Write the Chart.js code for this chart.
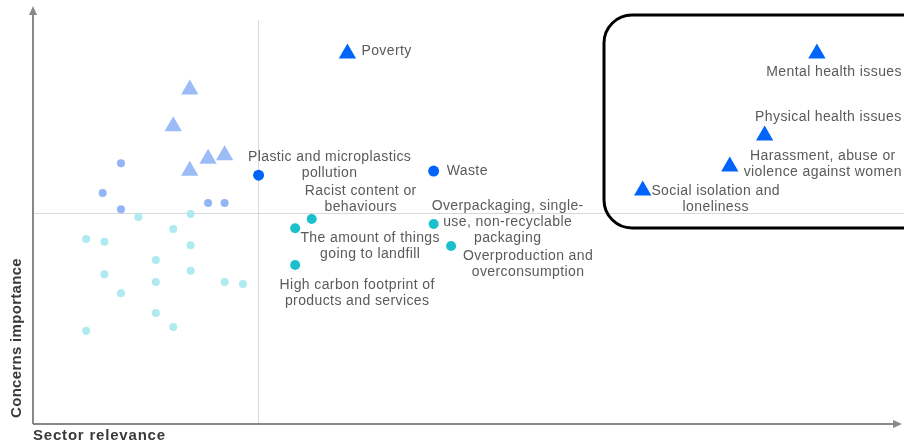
<!DOCTYPE html>
<html>
<head>
<meta charset="utf-8">
<script src="https://cdn.jsdelivr.net/npm/chart.js@4/dist/chart.umd.min.js"></script>
<style>
  html, body { margin: 0; padding: 0; background: #fff; }
  #wrap { width: 904px; height: 443px; position: relative; }
</style>
</head>
<body>
<div id="wrap"><canvas id="matrix"></canvas></div>
<script>
// x = sector relevance, y = concerns importance (0-100, arbitrary)
const socialConcerns = ['Poverty', 'Mental health issues', 'Physical health issues', 'Harassment, abuse or violence against women', 'Social isolation and loneliness']
const socialX = [36.1, 90.0, 84.0, 80.0, 70.0]
const socialY = [89.5, 89.5, 69.7, 62.2, 56.4]

const keyEnvConcerns = ['Plastic and microplastics pollution', 'Waste']
const keyEnvX = [25.9, 46.0]
const keyEnvY = [60.1, 61.1]

const productConcerns = ['Racist content or behaviours', 'The amount of things going to landfill', 'High carbon footprint of products and services', 'Overpackaging, single-use, non-recyclable packaging', 'Overproduction and overconsumption']
const productX = [32.0, 30.1, 30.1, 46.0, 48.0]
const productY = [49.5, 47.3, 38.4, 48.3, 43.0]

// unlabelled, lower relevance
const otherSocialX = [18.0, 16.1, 20.1, 22.0, 18.0]
const otherSocialY = [80.8, 71.9, 64.1, 64.9, 61.2]
const otherEnvX = [10.1, 8.0, 10.1, 20.1, 22.0]
const otherEnvY = [63.0, 55.8, 51.9, 53.4, 53.4]
const otherProductX = [12.1, 18.1, 16.1, 6.1, 8.2, 18.1, 14.1, 8.2, 14.1, 18.1, 22.0, 24.1, 10.1, 14.1, 16.1, 6.1]
const otherProductY = [50.0, 50.7, 47.1, 44.7, 44.0, 43.2, 39.6, 36.2, 34.3, 37.0, 34.3, 33.8, 31.6, 26.8, 23.4, 22.5]

const midX = 25.8
const midY = 51.0

const toPoints = (xs, ys) => xs.map((x, i) => ({ x: x, y: ys[i] }))

// label placement per concern: lines, dx, dy (px from point), align
const labelLayout = {
    'Poverty': { lines: ['Poverty'], dx: 14, dy: -2, align: 'left' },
    'Mental health issues': { lines: ['Mental health issues'], dx: 85, dy: 19, align: 'right' },
    'Physical health issues': { lines: ['Physical health issues'], dx: 137, dy: -18, align: 'right' },
    'Harassment, abuse or violence against women': { lines: ['Harassment, abuse or', 'violence against women'], dx: 93, dy: -10, align: 'center' },
    'Social isolation and loneliness': { lines: ['Social isolation and', 'loneliness'], dx: 73, dy: 1, align: 'center' },
    'Plastic and microplastics pollution': { lines: ['Plastic and microplastics', 'pollution'], dx: 71, dy: -18, align: 'center' },
    'Waste': { lines: ['Waste'], dx: 13, dy: 0, align: 'left' },
    'Racist content or behaviours': { lines: ['Racist content or', 'behaviours'], dx: 49, dy: -28, align: 'center' },
    'The amount of things going to landfill': { lines: ['The amount of things', 'going to landfill'], dx: 75, dy: 10, align: 'center' },
    'High carbon footprint of products and services': { lines: ['High carbon footprint of', 'products and services'], dx: 62, dy: 20, align: 'center' },
    'Overpackaging, single-use, non-recyclable packaging': { lines: ['Overpackaging, single-', 'use, non-recyclable', 'packaging'], dx: 74, dy: -18, align: 'center' },
    'Overproduction and overconsumption': { lines: ['Overproduction and', 'overconsumption'], dx: 77, dy: 10, align: 'center' }
}

const decorations = {
    id: 'decorations',
    beforeDatasetsDraw(chart) {
        const { ctx, chartArea, scales } = chart
        const px = scales.x.getPixelForValue(midX)
        const py = scales.y.getPixelForValue(midY)
        ctx.save()
        // quadrant lines
        ctx.strokeStyle = '#d9d9d9'
        ctx.lineWidth = 1
        ctx.beginPath()
        ctx.moveTo(Math.round(px) + 0.5, 20)
        ctx.lineTo(Math.round(px) + 0.5, chartArea.bottom)
        ctx.moveTo(chartArea.left, Math.round(py) + 0.5)
        ctx.lineTo(chartArea.right, Math.round(py) + 0.5)
        ctx.stroke()

        // axes with arrows
        ctx.strokeStyle = '#888'
        ctx.fillStyle = '#888'
        ctx.lineWidth = 2
        ctx.beginPath()
        ctx.moveTo(chartArea.left, chartArea.bottom)
        ctx.lineTo(chartArea.left, 12)
        ctx.moveTo(chartArea.left, chartArea.bottom)
        ctx.lineTo(chartArea.right - 8, chartArea.bottom)
        ctx.stroke()
        ctx.beginPath()
        ctx.moveTo(chartArea.left, 6)
        ctx.lineTo(chartArea.left - 4, 15)
        ctx.lineTo(chartArea.left + 4, 15)
        ctx.closePath()
        ctx.fill()
        ctx.beginPath()
        ctx.moveTo(chartArea.right - 2, chartArea.bottom)
        ctx.lineTo(chartArea.right - 11, chartArea.bottom - 4)
        ctx.lineTo(chartArea.right - 11, chartArea.bottom + 4)
        ctx.closePath()
        ctx.fill()

        // axis titles
        ctx.fillStyle = '#3a3a3a'
        ctx.font = 'bold 15px "Liberation Sans", Arial, sans-serif'
        ctx.letterSpacing = '0.8px'
        ctx.textAlign = 'left'
        ctx.textBaseline = 'middle'
        ctx.fillText('Sector relevance', 33, 436)
        ctx.letterSpacing = '0.3px'
        ctx.translate(17, 338)
        ctx.rotate(-Math.PI / 2)
        ctx.textAlign = 'center'
        ctx.fillText('Concerns importance', 0, 0)
        ctx.restore()
    },
    afterDatasetsDraw(chart) {
        const { ctx } = chart
        ctx.save()
        // highlight box round the social concerns
        ctx.strokeStyle = '#000'
        ctx.lineWidth = 3
        ctx.beginPath()
        ctx.roundRect(604, 15, 330, 213, 28)
        ctx.stroke()

        // point labels
        ctx.fillStyle = '#5a5a5a'
        ctx.font = '14px "Liberation Sans", Arial, sans-serif'
        ctx.letterSpacing = '0.4px'
        ctx.textBaseline = 'middle'
        chart.data.datasets.forEach((ds, di) => {
            if (!ds.names) return
            const meta = chart.getDatasetMeta(di)
            ds.names.forEach((name, i) => {
                const lay = labelLayout[name]
                const el = meta.data[i]
                ctx.textAlign = lay.align
                lay.lines.forEach((line, li) => {
                    ctx.fillText(line, el.x + lay.dx, el.y + lay.dy + li * 16)
                })
            })
        })
        ctx.restore()
    }
}

new Chart(document.getElementById('matrix'), {
    type: 'scatter',
    data: {
        datasets: [
            {
                label: 'Other product concerns',
                data: toPoints(otherProductX, otherProductY),
                pointStyle: 'circle', radius: 4,
                backgroundColor: '#aeeaf0', borderWidth: 0
            },
            {
                label: 'Other environmental concerns',
                data: toPoints(otherEnvX, otherEnvY),
                pointStyle: 'circle', radius: 4,
                backgroundColor: '#92b5f5', borderWidth: 0
            },
            {
                label: 'Other social concerns',
                data: toPoints(otherSocialX, otherSocialY),
                pointStyle: 'triangle', radius: 10,
                backgroundColor: '#9bbcf7', borderWidth: 0
            },
            {
                label: 'Product concerns',
                names: productConcerns,
                data: toPoints(productX, productY),
                pointStyle: 'circle', radius: 5,
                backgroundColor: '#1cbfcc', borderWidth: 0
            },
            {
                label: 'Environmental concerns',
                names: keyEnvConcerns,
                data: toPoints(keyEnvX, keyEnvY),
                pointStyle: 'circle', radius: 5.5,
                backgroundColor: '#0064fa', borderWidth: 0
            },
            {
                label: 'Social concerns',
                names: socialConcerns,
                data: toPoints(socialX, socialY),
                pointStyle: 'triangle', radius: 10,
                backgroundColor: '#0064fa', borderWidth: 0
            }
        ]
    },
    options: {
        responsive: true,
        maintainAspectRatio: false,
        animation: false,
        layout: { autoPadding: false, padding: { left: 33, right: 0, top: 10, bottom: 19 } },
        scales: {
            x: { display: false, min: 0, max: 100 },
            y: { display: false, min: 0, max: 100 }
        },
        plugins: {
            legend: { display: false },
            tooltip: { enabled: false }
        }
    },
    plugins: [decorations]
});
</script>
</body>
</html>
